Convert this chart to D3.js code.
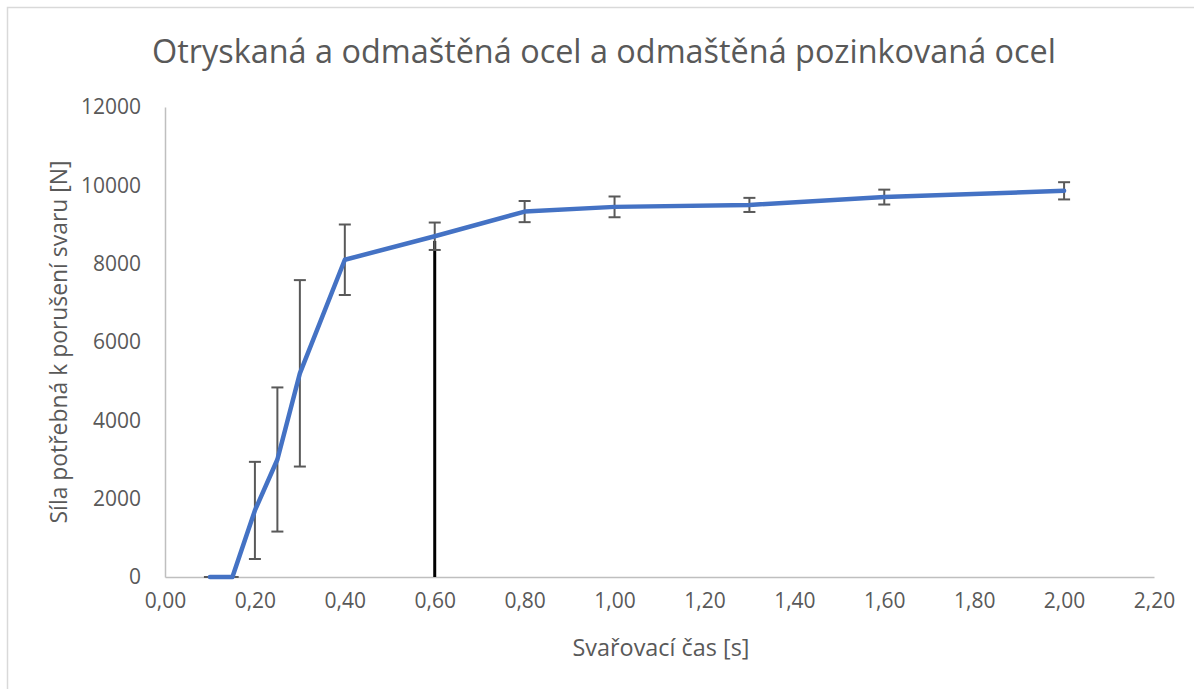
<!DOCTYPE html>
<html>
<head>
<meta charset="utf-8">
<script src="https://cdn.jsdelivr.net/npm/d3@7"></script>
<style>
  html, body { margin: 0; padding: 0; background: #ffffff; }
  svg { display: block; }
  text { font-family: "Open Sans", sans-serif; fill: #595959; }
</style>
</head>
<body>
<svg id="chart" width="1194" height="689"></svg>
<script>
// ---- data ----
const titleText = "Otryskaná a odmaštěná ocel a odmaštěná pozinkovaná ocel";
const xTitle = "Svařovací čas [s]";
const yTitle = "Síla potřebná k porušení svaru [N]";
const times = [0.10, 0.15, 0.20, 0.25, 0.30, 0.40, 0.60, 0.80, 1.00, 1.30, 1.60, 2.00];
const forces = [0, 0, 1700, 3000, 5200, 8100, 8700, 9330, 9450, 9500, 9700, 9860];
const errors = [0, 0, 1240, 1840, 2380, 900, 350, 270, 265, 180, 190, 220];
const xTicks = [0, 0.2, 0.4, 0.6, 0.8, 1.0, 1.2, 1.4, 1.6, 1.8, 2.0, 2.2];
const yTicks = [0, 2000, 4000, 6000, 8000, 10000, 12000];
const markerX = [0.60];
const markerTop = [8580];

// ---- layout ----
const svg = d3.select("#chart");
const x = d3.scaleLinear().domain([0, 2.2]).range([165, 1154]);
const y = d3.scaleLinear().domain([0, 12000]).range([577, 107]);

// chart border
svg.append("rect")
  .attr("x", 7.5).attr("y", 7.5)
  .attr("width", 1200).attr("height", 700)
  .attr("fill", "#ffffff")
  .attr("stroke", "#d9d9d9").attr("stroke-width", 1.5);

function fitText(sel, target) {
  const node = sel.node();
  const len = node.getComputedTextLength();
  const fs = parseFloat(sel.attr("font-size"));
  sel.attr("font-size", (fs * target / len).toFixed(2));
}

// title
const t = svg.append("text")
  .attr("x", 604).attr("y", 63)
  .attr("text-anchor", "middle")
  .attr("font-size", 32)
  .text(titleText);
fitText(t, 904);

// axes
const yAxis = d3.axisLeft(y).tickValues(yTicks).tickSize(0).tickPadding(24)
  .tickFormat(d3.format("d"));
const gy = svg.append("g").attr("transform", `translate(${x(0)},0)`).call(yAxis);
gy.select(".domain").attr("stroke", "#bfbfbf").attr("stroke-width", 1.5);
gy.selectAll("text").attr("font-size", 21).attr("fill", "#595959")
  .style("font-family", '"Open Sans", sans-serif');

const xAxis = d3.axisBottom(x).tickValues(xTicks).tickSize(0).tickPadding(16)
  .tickFormat(d => d3.format(".2f")(d).replace(".", ","));
const gx = svg.append("g").attr("transform", `translate(0,${y(0)})`).call(xAxis);
gx.select(".domain").attr("stroke", "#bfbfbf").attr("stroke-width", 1.5);
gx.selectAll("text").attr("font-size", 21).attr("fill", "#595959")
  .style("font-family", '"Open Sans", sans-serif');

// axis titles
const xt = svg.append("text")
  .attr("x", 661).attr("y", 656)
  .attr("text-anchor", "middle")
  .attr("font-size", 20)
  .text(xTitle);
fitText(xt, 177);

const yt = svg.append("text")
  .attr("transform", "translate(67,342) rotate(-90)")
  .attr("text-anchor", "middle")
  .attr("font-size", 20)
  .text(yTitle);
fitText(yt, 363);

// vertical black marker line
svg.selectAll("line.marker").data(markerX).join("line")
  .attr("class", "marker")
  .attr("x1", d => x(d)).attr("x2", d => x(d))
  .attr("y1", y(0)).attr("y2", (d, i) => y(markerTop[i]))
  .attr("stroke", "#000000").attr("stroke-width", 3);

// data rows
const rows = times.map((t, i) => ({ t, f: forces[i], e: errors[i] }));

// error bars
const eb = svg.append("g").attr("stroke", "#595959").attr("stroke-width", 2);
const capW = 6;
rows.forEach(r => {
  const cx = x(r.t);
  eb.append("line").attr("x1", cx).attr("x2", cx)
    .attr("y1", y(r.f - r.e)).attr("y2", y(r.f + r.e));
  eb.append("line").attr("x1", cx - capW).attr("x2", cx + capW)
    .attr("y1", y(r.f + r.e)).attr("y2", y(r.f + r.e));
  eb.append("line").attr("x1", cx - capW).attr("x2", cx + capW)
    .attr("y1", y(r.f - r.e)).attr("y2", y(r.f - r.e));
});

// series line
const line = d3.line().x(d => x(d.t)).y(d => y(d.f));
svg.append("path")
  .datum(rows)
  .attr("d", line)
  .attr("fill", "none")
  .attr("stroke", "#4472C4")
  .attr("stroke-width", 4.5)
  .attr("stroke-linejoin", "round")
  .attr("stroke-linecap", "round");
</script>
</body>
</html>
